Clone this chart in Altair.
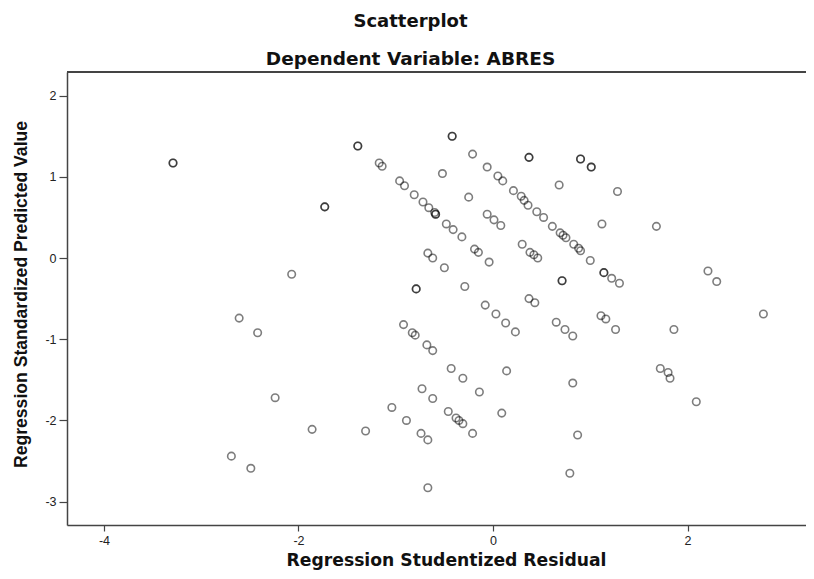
import altair as alt
import pandas as pd

# Regression Studentized Residual (x) and Regression Standardized Predicted Value (y)
residual = [
    -3.29, -3.29, -1.73, -1.73, -2.07, -2.61, -2.42, -2.24, -1.86, -2.69, -2.49,
    -1.39, -1.39, -1.17, -1.14, -0.96, -0.91, -0.81, -0.72, -0.66, -0.60, -0.59, -0.59,
    -0.48, -0.41, -0.32, -0.19, -0.15, -0.04,
    -0.42, -0.42, -0.21, -0.06, 0.05, 0.10, -0.52, -0.25, -0.06, 0.01, 0.08,
    0.37, 0.37, 0.21, 0.29, 0.32, 0.36, 0.45, 0.52, 0.61, 0.69, 0.72, 0.75,
    0.83, 0.88, 0.90, 1.00, 0.90, 0.90, 1.01, 1.01, 0.68, 1.12, 1.14, 1.14,
    0.30, 0.38, 0.42, 0.46, 0.71, 0.71, -0.67, -0.62, -0.50, -0.79, -0.79,
    -0.29, -0.08, 0.03, 0.37, 0.43, 1.11, 1.16, 0.65, 1.28, 1.22, 1.30,
    1.68, 2.21, 2.30, 2.78, 1.26, 1.86, 1.72, 1.80, 1.82, 2.09,
    0.13, 0.23, 0.74, 0.82, -0.92, -0.83, -0.80, -0.68, -0.62, -0.43, -0.31,
    0.14, -0.14, 0.82, -0.73, -0.62, -1.04, -0.46, -0.38, -0.35, -0.31, 0.09,
    -0.89, -1.31, -0.74, -0.67, -0.21, 0.87, 0.79, -0.67,
]
predicted = [
    1.17, 1.17, 0.63, 0.63, -0.20, -0.74, -0.92, -1.72, -2.11, -2.44, -2.59,
    1.38, 1.38, 1.17, 1.13, 0.95, 0.89, 0.78, 0.69, 0.62, 0.56, 0.54, 0.54,
    0.42, 0.35, 0.26, 0.11, 0.07, -0.05,
    1.50, 1.50, 1.28, 1.12, 1.01, 0.95, 1.04, 0.75, 0.54, 0.47, 0.40,
    1.24, 1.24, 0.83, 0.76, 0.71, 0.65, 0.57, 0.50, 0.39, 0.31, 0.28, 0.25,
    0.17, 0.12, 0.09, -0.03, 1.22, 1.22, 1.12, 1.12, 0.90, 0.42, -0.18, -0.18,
    0.17, 0.07, 0.04, 0.00, -0.28, -0.28, 0.06, 0.00, -0.12, -0.38, -0.38,
    -0.35, -0.58, -0.69, -0.50, -0.55, -0.71, -0.75, -0.79, 0.82, -0.25, -0.31,
    0.39, -0.16, -0.29, -0.69, -0.88, -0.88, -1.36, -1.41, -1.48, -1.77,
    -0.80, -0.91, -0.88, -0.96, -0.82, -0.92, -0.95, -1.07, -1.14, -1.36, -1.48,
    -1.39, -1.65, -1.54, -1.61, -1.73, -1.84, -1.89, -1.97, -2.00, -2.04, -1.91,
    -2.00, -2.13, -2.16, -2.24, -2.16, -2.18, -2.65, -2.83,
]
x_ticks = [-4, -2, 0, 2]
y_ticks = [-3, -2, -1, 0, 1, 2]

df = pd.DataFrame({"res": residual, "pred": predicted})

W, H = 739, 453
FONT = "Liberation Sans"
WIDE = "DejaVu Sans"

points = alt.Chart(df).mark_point(
    shape="circle", filled=False, size=56, stroke="#000000",
    strokeWidth=1.6, strokeOpacity=0.72
).encode(
    x=alt.X("res:Q",
            scale=alt.Scale(domain=[-4.38, 3.218], nice=False, zero=False),
            axis=alt.Axis(values=x_ticks, labelExpr="toString(datum.value)", grid=False,
                          title="Regression Studentized Residual",
                          domain=True, domainColor="#444444", domainWidth=1.5,
                          tickColor="#444444", tickSize=6, tickWidth=1.2,
                          labelFont=FONT, labelFontSize=12.5, labelColor="#222222",
                          labelPadding=3,
                          titleFont=WIDE, titleFontSize=17.2, titleFontWeight="bold",
                          titleColor="#111111", titleX=379, titleY=40,
                          titleAlign="center", titleBaseline="alphabetic")),
    y=alt.Y("pred:Q",
            scale=alt.Scale(domain=[-3.288, 2.291], nice=False, zero=False),
            axis=alt.Axis(values=y_ticks, labelExpr="toString(datum.value)", grid=False,
                          title="Regression Standardized Predicted Value",
                          domain=True, domainColor="#444444", domainWidth=1.5,
                          tickColor="#444444", tickSize=8, tickWidth=1.2,
                          labelFont=FONT, labelFontSize=12.5, labelColor="#222222",
                          labelPadding=3,
                          titleFont=FONT, titleFontSize=17.6, titleFontWeight="bold",
                          titleColor="#111111", titleX=-46, titleY=222,
                          titleAngle=-90, titleAlign="center",
                          titleBaseline="middle")),
)

top_border = alt.Chart(df).mark_rule(color="#444444", strokeWidth=1.5).encode(
    x=alt.value(0), x2=alt.value(W), y=alt.value(0)
)

chart = alt.layer(points, top_border).properties(
    width=W, height=H,
    autosize=alt.AutoSizeParams(type="none"),
    padding={"left": 59, "top": 64, "right": 0, "bottom": 46},
    title=alt.TitleParams(
        text="Scatterplot", subtitle="Dependent Variable: ABRES",
        font=WIDE, fontSize=18, fontWeight="bold", color="#111111",
        subtitleFont=WIDE, subtitleFontSize=18.5, subtitleFontWeight="bold",
        subtitleColor="#111111", subtitlePadding=19,
        anchor="middle", frame="group", dx=-26, offset=3,
    ),
).configure_view(
    fill="#f0f0f0", stroke=None
).configure(background="white")

chart.save("out.html", embed_options={"renderer": "svg", "actions": False})
